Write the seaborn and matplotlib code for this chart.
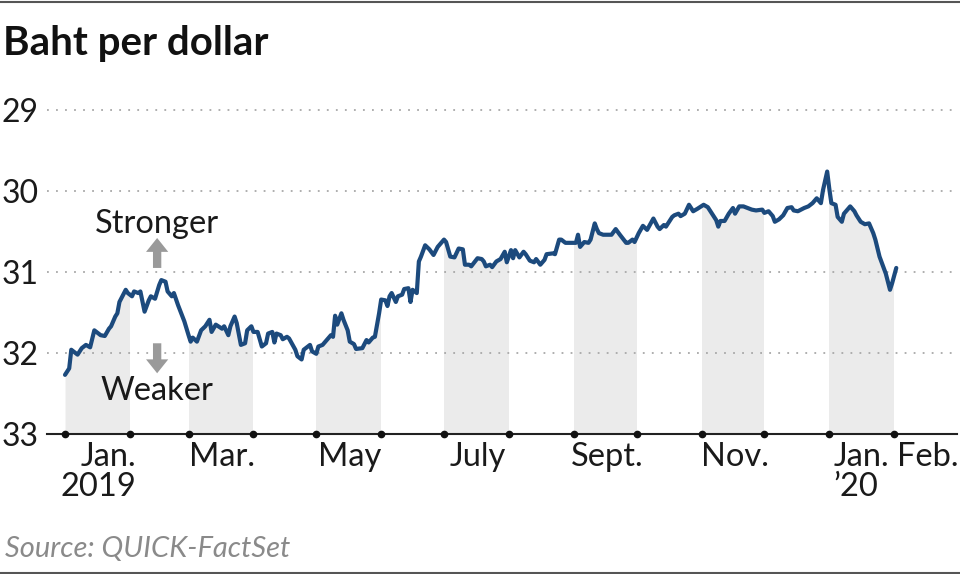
import matplotlib
matplotlib.use('Agg')
import matplotlib.pyplot as plt
import matplotlib.dates as mdates
from matplotlib.lines import Line2D
from matplotlib.path import Path
import pandas as pd
import seaborn as sns

# days since 2019-01-01 and baht per dollar
day_offset = [0, 2, 3, 6, 8, 10, 12, 14, 17, 19, 21, 22, 24, 25, 26, 29, 30, 32, 33, 35,
              36, 38, 40, 41, 43, 45, 46, 48, 49, 51, 52, 54, 57, 59, 60, 61, 63, 65, 67, 69,
              70, 72, 75, 76, 78, 79, 81, 82, 84, 86, 87,
              89, 90, 92, 94, 96, 97, 99, 100, 101, 103, 104, 106, 107, 110, 111, 113, 114, 117, 118, 120,
              121, 123, 125, 127, 128, 129, 130, 132, 133, 135, 136, 138, 139, 142, 144, 145, 147, 148, 150, 151,
              153, 154, 155, 156, 158, 159, 161, 162, 164, 165, 166, 168, 169, 170, 172, 174, 176, 178, 181,
              182, 184, 186, 188, 190, 191, 193, 194, 197, 199, 200, 201, 203, 204, 206, 208, 210, 211, 213, 214,
              215, 217, 219, 220, 222, 224, 225, 227, 229, 230, 233, 234, 236, 237, 239, 241, 244, 245, 246, 248,
              250, 251, 253, 254, 255, 257, 260, 261, 263, 265, 268, 269, 271, 272, 274,
              276, 278, 281, 283, 284, 286, 287, 290, 291, 293, 294, 296, 298, 300, 302, 305, 307, 309, 311, 312,
              313, 315, 317, 319, 320, 322, 324, 326, 328, 330, 333, 334, 336, 338, 339, 341, 343, 345, 347, 348,
              350, 353, 355, 357, 359, 361, 362, 364, 365, 366, 368, 369, 371, 372, 375, 377, 378, 380, 382, 384,
              386, 387, 389, 392, 394, 395, 397]
baht = [32.27, 32.19, 31.96, 32.02, 31.94, 31.90, 31.93, 31.72, 31.78, 31.79, 31.70, 31.67, 31.55, 31.51, 31.37, 31.22, 31.26, 31.30, 31.24, 31.26,
        31.24, 31.49, 31.35, 31.30, 31.33, 31.16, 31.10, 31.12, 31.24, 31.30, 31.26, 31.41, 31.61, 31.78, 31.86, 31.81, 31.86, 31.72, 31.67, 31.59,
        31.74, 31.65, 31.70, 31.67, 31.78, 31.67, 31.55, 31.63, 31.90, 31.88, 31.72,
        31.67, 31.74, 31.74, 31.92, 31.88, 31.76, 31.74, 31.87, 31.76, 31.78, 31.83, 31.80, 31.82, 31.96, 32.04, 32.08, 31.96, 31.90, 31.98, 32.01,
        31.92, 31.90, 31.84, 31.78, 31.80, 31.54, 31.65, 31.51, 31.59, 31.72, 31.86, 31.89, 31.95, 31.94, 31.84, 31.87, 31.81, 31.80, 31.51, 31.34,
        31.35, 31.42, 31.30, 31.26, 31.37, 31.30, 31.28, 31.21, 31.20, 31.37, 31.22, 31.26, 30.87, 30.81, 30.67, 30.72, 30.79, 30.69, 30.60,
        30.63, 30.81, 30.82, 30.71, 30.72, 30.91, 30.91, 30.93, 30.83, 30.84, 30.87, 30.93, 30.91, 30.94, 30.87, 30.84, 30.75, 30.88, 30.73, 30.83,
        30.73, 30.82, 30.75, 30.78, 30.86, 30.88, 30.84, 30.91, 30.85, 30.78, 30.77, 30.78, 30.60, 30.60, 30.64, 30.64, 30.64, 30.54, 30.69, 30.63,
        30.64, 30.60, 30.40, 30.47, 30.52, 30.54, 30.54, 30.54, 30.47, 30.54, 30.64, 30.64, 30.60, 30.63, 30.52,
        30.43, 30.48, 30.34, 30.44, 30.47, 30.42, 30.44, 30.32, 30.30, 30.28, 30.31, 30.28, 30.17, 30.25, 30.22, 30.17, 30.20, 30.28, 30.36, 30.44,
        30.37, 30.37, 30.28, 30.21, 30.28, 30.19, 30.19, 30.21, 30.23, 30.24, 30.23, 30.27, 30.25, 30.31, 30.38, 30.35, 30.30, 30.21, 30.20, 30.24,
        30.25, 30.21, 30.19, 30.15, 30.09, 30.15, 29.99, 29.76, 29.97, 30.15, 30.17, 30.32, 30.38, 30.28, 30.19, 30.25, 30.30, 30.38, 30.41, 30.40,
        30.52, 30.60, 30.81, 31.02, 31.22, 31.14, 30.95]

label_months = ['2019-01', '2019-03', '2019-05', '2019-07', '2019-09', '2019-11', '2020-01', '2020-02']
month_labels = ['Jan.\n2019', 'Mar.', 'May', 'July', 'Sept.', 'Nov.', 'Jan.\n\u201920', 'Feb.']
shaded_months = ['2019-01', '2019-03', '2019-05', '2019-07', '2019-09', '2019-11', '2020-01']
y_ticks = [29, 30, 31, 32, 33]
title = 'Baht per dollar'
source = 'Source: QUICK-FactSet'

start = pd.Timestamp('2019-01-01')
df = pd.DataFrame({'date': start + pd.to_timedelta(day_offset, unit='D'), 'baht': baht})

sns.set_style('white')
plt.rcParams['font.family'] = ['Lato', 'DejaVu Sans']

fig = plt.figure(figsize=(9.6, 5.74), dpi=100)
ax = fig.add_axes([47 / 960, 140 / 574, 910 / 960, 332.1 / 574])

# grey area under the line, kept only inside every other month
band = ax.fill_between(df['date'], df['baht'], 33, color='#ebebeb', lw=0, zorder=1)
verts, codes = [], []
for m in shaded_months:
    s = pd.Timestamp(m + '-01')
    a = mdates.date2num(s)
    b = mdates.date2num(s + pd.offsets.MonthBegin(1))
    verts += [(a, 28.9), (b, 28.9), (b, 33), (a, 33), (a, 28.9)]
    codes += [Path.MOVETO, Path.LINETO, Path.LINETO, Path.LINETO, Path.CLOSEPOLY]
band.set_clip_path(Path(verts, codes), ax.transData)

for v in y_ticks[:-1]:
    ax.axhline(v, color='#a8a8a8', lw=1.3, ls=(0, (1, 4)), zorder=2)

sns.lineplot(data=df, x='date', y='baht', color='#1c4a7d', lw=3.0, ax=ax, zorder=3)

month_starts = pd.date_range('2019-01-01', '2020-02-01', freq='MS')
ax.plot(month_starts, [y_ticks[-1]] * len(month_starts), 'o', color='#111111', ms=4.5,
        clip_on=False, zorder=4)

ax.set_xlim(start - pd.Timedelta(days=8.6), start + pd.Timedelta(days=426))
ax.set_ylim(33, 28.9)
ax.set_yticks(y_ticks)
ax.set_yticklabels([str(v) for v in y_ticks])
ax.tick_params(axis='y', length=0, pad=6, labelsize=23, labelcolor='#1a1a1a')

pos = []
for m in label_months:
    s = pd.Timestamp(m + '-01')
    pos.append(s + pd.Timedelta(days=2 if m == '2020-01' else 16))
ax.set_xticks(pos)
ax.set_xticklabels(month_labels)
ax.tick_params(axis='x', length=0, pad=6, labelsize=23.5, labelcolor='#1a1a1a')
for lab, m in zip(ax.get_xticklabels(), label_months):
    lab.set_linespacing(1.0)
    if m == '2020-01':
        lab.set_ha('left')
        lab.set_multialignment('left')
    elif m == '2019-01':
        lab.set_multialignment('right')
ax.set_xlabel('')
ax.set_ylabel('')

for side in ['top', 'left', 'right']:
    ax.spines[side].set_visible(False)
ax.spines['bottom'].set_color('#222222')
ax.spines['bottom'].set_linewidth(1.5)

# stronger / weaker arrows
ax_x = start + pd.Timedelta(days=44)
arrow = dict(arrowstyle='simple,head_length=0.5,head_width=0.8,tail_width=0.3',
             color='#9a9a9a', lw=0, shrinkA=0, shrinkB=0, mutation_scale=20)
ax.annotate('', xy=(ax_x, 30.58), xytext=(ax_x, 30.95), arrowprops=arrow, zorder=5)
ax.annotate('', xy=(ax_x, 32.25), xytext=(ax_x, 31.88), arrowprops=arrow, zorder=5)
ax.text(ax_x, 30.52, 'Stronger', ha='center', va='baseline', fontsize=23.5,
        color='#1a1a1a', zorder=5)
ax.text(ax_x, 32.58, 'Weaker', ha='center', va='baseline', fontsize=23.5,
        color='#1a1a1a', zorder=5)

fig.text(3 / 960, 1 - 55 / 574, title, fontsize=29, fontweight='bold', ha='left', va='baseline',
         color='#111111')
fig.text(5 / 960, 1 - 557 / 574, source, fontsize=21, style='italic',
         ha='left', va='baseline', color='#8a8a8a')

fig.add_artist(Line2D([0, 1], [1 - 1.5 / 574] * 2, color='#555555', lw=1.5))
fig.add_artist(Line2D([0, 1], [1 - 572.5 / 574] * 2, color='#555555', lw=1.5))

fig.savefig('out.png', dpi=100)
